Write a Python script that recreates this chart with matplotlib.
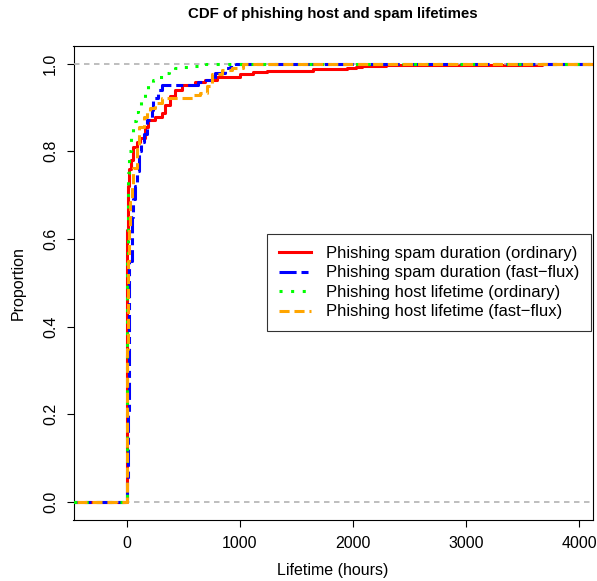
import matplotlib
matplotlib.use("Agg")
import matplotlib.pyplot as plt

plt.rcParams['font.family'] = ['Liberation Sans', 'DejaVu Sans']

# ECDF knots (hours) and cumulative proportion reached at each knot
spam_ord_h = [0, 2, 5, 10, 15, 25, 40, 60, 90, 120, 160, 190, 250, 310, 340, 380,
              430, 490, 600, 690, 800, 1000, 1120, 1240, 1470, 1650, 1950, 2030,
              2080, 2290, 3670]
spam_ord_p = [0.30, 0.50, 0.62, 0.68, 0.72, 0.76, 0.78, 0.81, 0.82, 0.83, 0.856,
              0.872, 0.879, 0.887, 0.906, 0.925, 0.94, 0.951, 0.959, 0.963, 0.97,
              0.976, 0.98, 0.982, 0.984, 0.987, 0.989, 0.993, 0.995, 0.997, 1.0]

spam_ff_h = [0, 10, 25, 45, 60, 75, 90, 105, 125, 150, 180, 220, 235, 280, 310,
             630, 700, 780, 870, 910, 970, 1090]
spam_ff_p = [0.05, 0.20, 0.55, 0.65, 0.69, 0.72, 0.755, 0.80, 0.82, 0.84, 0.872,
             0.894, 0.921, 0.94, 0.951, 0.959, 0.963, 0.978, 0.989, 0.991, 0.998, 1.0]

host_ord_h = [0, 3, 8, 15, 25, 40, 60, 80, 100, 130, 160, 190, 230, 280, 330, 370,
              430, 490, 580, 700, 2300]
host_ord_p = [0.35, 0.55, 0.68, 0.75, 0.80, 0.84, 0.87, 0.89, 0.905, 0.921, 0.937,
              0.951, 0.962, 0.970, 0.978, 0.986, 0.990, 0.993, 0.995, 0.998, 1.0]

host_ff_h = [0, 10, 20, 30, 45, 60, 90, 105, 150, 180, 210, 250, 310, 590, 650, 710,
             750, 840, 930, 1030, 1190]
host_ff_p = [0.35, 0.55, 0.63, 0.685, 0.72, 0.762, 0.815, 0.856, 0.879, 0.89, 0.898,
             0.91, 0.921, 0.929, 0.933, 0.948, 0.975, 0.986, 0.99, 0.998, 1.0]

labels = ["Phishing spam duration (ordinary)", "Phishing spam duration (fast\u2212flux)",
          "Phishing host lifetime (ordinary)", "Phishing host lifetime (fast\u2212flux)"]
colors = ["#FF0000", "#0000FF", "#00FF00", "#FFA500"]
dashes = [None, (5.6, 1.6, 2.3, 1.6), (1.0, 2.8), (3.3, 1.6)]

x_lo, x_hi = -470, 4118


def ecdf_xy(h, p):
    return [x_lo - 100] + h + [x_hi + 100], [0] + p + [p[-1]]


fig = plt.figure(figsize=(5.97, 5.81), dpi=100)
ax = fig.add_axes([73.5 / 597, 1 - 519.5 / 581, 519 / 597, 473.5 / 581])

series = [(spam_ord_h, spam_ord_p), (spam_ff_h, spam_ff_p),
          (host_ord_h, host_ord_p), (host_ff_h, host_ff_p)]
handles = []
for i, (h, p) in enumerate(series):
    x, y = ecdf_xy(h, p)
    ln, = ax.plot(x, y, drawstyle='steps-post', color=colors[i], lw=2.2,
                  label=labels[i], zorder=2 + i * 2)
    if dashes[i] is not None:
        ln.set_dashes(dashes[i])
    handles.append(ln)
    if i == 0:
        # R's plot.ecdf puts the 0/1 guide lines over the first curve
        for yy in (0, 1):
            ax.axhline(yy, color='#b3b3b3', lw=1.2, dashes=(3.3, 2.7), zorder=3)

ax.set_xlim(x_lo, x_hi)
ax.set_ylim(-0.04, 1.04)
ax.set_xticks([0, 1000, 2000, 3000, 4000])
ax.set_yticks([0.0, 0.2, 0.4, 0.6, 0.8, 1.0])
ax.set_yticklabels(["0.0", "0.2", "0.4", "0.6", "0.8", "1.0"], rotation=90, va='center')
ax.tick_params(length=5, width=0.8, labelsize=11.5, pad=6)
ax.tick_params(axis='x', pad=7)
for s in ax.spines.values():
    s.set_linewidth(0.8)

fig.text(333 / 597, 1 - 14 / 581, "CDF of phishing host and spam lifetimes",
         ha='center', va='center', fontsize=10.85, fontweight='bold')
fig.text(333 / 597, 1 - 571 / 581, "Lifetime (hours)", ha='center', va='center', fontsize=11.5)
fig.text(18 / 597, 1 - 283 / 581, "Proportion", ha='center', va='center', fontsize=11.5,
         rotation=90)

leg = ax.legend(handles=handles, loc='upper right', bbox_to_anchor=(0.997, 0.603),
                fontsize=12, frameon=True, fancybox=False, edgecolor='black',
                handlelength=1.92, handletextpad=0.9, labelspacing=0.27,
                borderpad=0.72, borderaxespad=0)
leg.get_frame().set_linewidth(0.8)

fig.savefig("out.png", dpi=100)
